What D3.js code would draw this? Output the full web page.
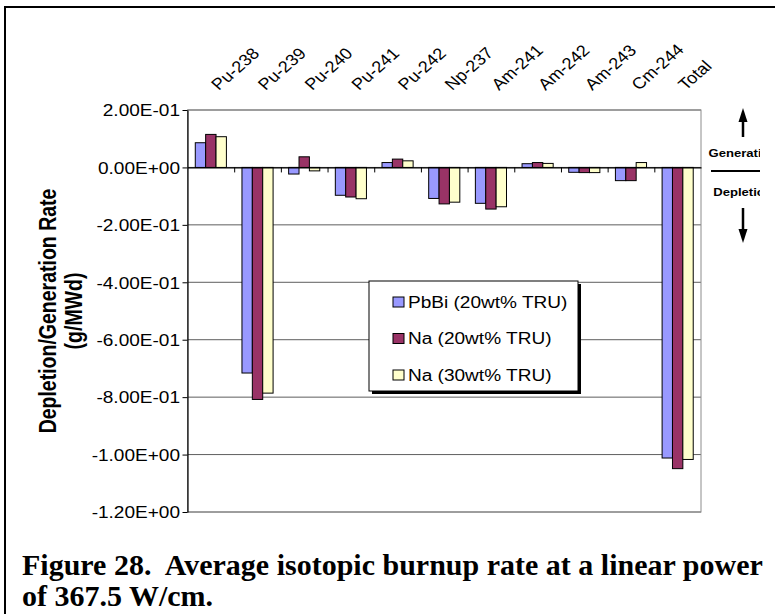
<!DOCTYPE html>
<html>
<head>
<meta charset="utf-8">
<script src="https://cdn.jsdelivr.net/npm/d3@7"></script>
<style>
  body { margin: 0; background: #fff; }
  svg { display: block; font-family: "Liberation Sans", Arial, sans-serif; }
</style>
</head>
<body>
<svg id="chart" width="775" height="614"></svg>
<script>
const categories = ["Pu-238", "Pu-239", "Pu-240", "Pu-241", "Pu-242", "Np-237", "Am-241", "Am-242", "Am-243", "Cm-244", "Total"];
const seriesNames = ["PbBi (20wt% TRU)", "Na (20wt% TRU)", "Na (30wt% TRU)"];
const pbbi20 = [0.086, -0.716, -0.023, -0.097, 0.017, -0.108, -0.125, 0.013, -0.017, -0.046, -1.012];
const na20   = [0.115, -0.808,  0.037, -0.103, 0.029, -0.127, -0.145, 0.017, -0.018, -0.046, -1.049];
const na30   = [0.107, -0.786, -0.012, -0.109, 0.023, -0.121, -0.137, 0.014, -0.018,  0.017, -1.017];
const yTicks = [0.2, 0, -0.2, -0.4, -0.6, -0.8, -1.0, -1.2];
const colors = ["#9999ff", "#993366", "#ffffcc"];
const sideLabels = ["Generation", "Depletion"];
const titleLines = ["Figure 28.  Average isotopic burnup rate at a linear power", "of 367.5 W/cm."];

const series = [pbbi20, na20, na30];
const SX = 1.19; // reference text is stretched sideways

const svg = d3.select("#chart");
const plot = {left: 187.5, right: 701, top: 110, bottom: 512};

// outer frame of the figure
svg.append("rect")
  .attr("x", 5).attr("y", 7)
  .attr("width", 820).attr("height", 700)
  .attr("fill", "none").attr("stroke", "#000").attr("stroke-width", 2);

const x = d3.scaleBand().domain(categories).range([plot.left, plot.right]);
const xs = d3.scaleBand().domain(d3.range(series.length))
  .range([0, x.bandwidth()]).paddingOuter(0.75);
const y = d3.scaleLinear().domain([-1.2, 0.2]).range([plot.bottom, plot.top]);

function sci(v) {
  if (Math.abs(v) < 1e-9) return "0.00E+00";
  const parts = v.toExponential(2).split("e");
  const sign = parts[1][0] === "-" ? "-" : "+";
  return parts[0] + "E" + sign + parts[1].replace(/[+-]/, "").padStart(2, "0");
}

// gridlines
svg.append("g").selectAll("line")
  .data(yTicks)
  .enter().append("line")
  .attr("x1", plot.left).attr("x2", plot.right)
  .attr("y1", d => y(d)).attr("y2", d => y(d))
  .attr("stroke", "#5e5e5e").attr("stroke-width", 1);

svg.append("rect")
  .attr("x", plot.left).attr("y", plot.top)
  .attr("width", plot.right - plot.left).attr("height", plot.bottom - plot.top)
  .attr("fill", "none").attr("stroke", "#8c8c8c").attr("stroke-width", 1);

// bars
categories.forEach((c, i) => {
  series.forEach((s, j) => {
    const v = s[i];
    svg.append("rect")
      .attr("x", x(c) + xs(j))
      .attr("y", Math.min(y(v), y(0)))
      .attr("width", xs.bandwidth())
      .attr("height", Math.abs(y(v) - y(0)))
      .attr("fill", colors[j])
      .attr("stroke", "#000").attr("stroke-width", 1);
  });
});

// category axis along zero, ticks on category boundaries
const xIdx = d3.scaleLinear().domain([0, categories.length]).range([plot.left, plot.right]);
const catAxis = svg.append("g")
  .attr("transform", "translate(0," + y(0) + ")")
  .call(d3.axisBottom(xIdx).tickValues(d3.range(1, categories.length)).tickFormat("").tickSize(5).tickSizeOuter(0));
catAxis.select(".domain").attr("stroke-width", 1.2);

// value axis
const yAxis = svg.append("g")
  .attr("transform", "translate(" + plot.left + ",0)")
  .call(d3.axisLeft(y).tickValues(yTicks).tickFormat(sci).tickSize(5).tickSizeOuter(0));
yAxis.select(".domain").attr("stroke-width", 1.2);
yAxis.selectAll("text")
  .attr("font-size", 16)
  .attr("font-family", "Liberation Sans, Arial, sans-serif")
  .attr("fill", "#000")
  .attr("x", -7.5 / SX)
  .attr("dy", "0.36em")
  .attr("transform", "scale(" + SX + ",1)");

// category labels above the plot
const topAxis = svg.append("g")
  .attr("transform", "translate(0,91)")
  .call(d3.axisTop(x).tickSize(0).tickPadding(0));
topAxis.select(".domain").remove();
topAxis.selectAll("text")
  .attr("font-size", 16)
  .attr("font-family", "Liberation Sans, Arial, sans-serif")
  .attr("fill", "#000")
  .attr("text-anchor", "start")
  .attr("x", 0).attr("y", 0).attr("dy", 0)
  .attr("transform", "translate(8,0) scale(1.14,1) rotate(-45)");

// y axis title
const yTitle = svg.append("g").attr("font-weight", "bold").attr("font-size", 19.5);
yTitle.append("text")
  .attr("text-anchor", "middle")
  .attr("transform", "translate(56,311) scale(" + SX + ",1) rotate(-90)")
  .text("Depletion/Generation Rate");
yTitle.append("text")
  .attr("text-anchor", "middle")
  .attr("transform", "translate(82,311) scale(" + SX + ",1) rotate(-90)")
  .text("(g/MWd)");

// legend
const lg = svg.append("g");
lg.append("rect").attr("x", 372).attr("y", 284).attr("width", 209).attr("height", 110).attr("fill", "#000");
lg.append("rect").attr("x", 369).attr("y", 281).attr("width", 209).attr("height", 110)
  .attr("fill", "#fff").attr("stroke", "#000").attr("stroke-width", 1);
seriesNames.forEach((name, j) => {
  const cy = 302 + j * 36.5;
  lg.append("rect")
    .attr("x", 393).attr("y", cy - 5)
    .attr("width", 11).attr("height", 10)
    .attr("fill", colors[j]).attr("stroke", "#000").attr("stroke-width", 1);
  lg.append("text")
    .attr("font-size", 16)
    .attr("transform", "translate(408," + (cy + 5.7) + ") scale(" + SX + ",1)")
    .text(name);
});

// generation / depletion note on the right, clipped like the original text box
svg.append("clipPath").attr("id", "noteClip")
  .append("rect").attr("x", 700).attr("y", 95).attr("width", 60).attr("height", 160);
const note = svg.append("g").attr("clip-path", "url(#noteClip)");
note.append("line").attr("x1", 743).attr("x2", 743).attr("y1", 137).attr("y2", 120)
  .attr("stroke", "#000").attr("stroke-width", 2.5);
note.append("path").attr("d", "M738.5,122 L747.5,122 L743,108 Z").attr("fill", "#000");
note.append("line").attr("x1", 743).attr("x2", 743).attr("y1", 208).attr("y2", 231)
  .attr("stroke", "#000").attr("stroke-width", 2.5);
note.append("path").attr("d", "M738.5,229 L747.5,229 L743,243 Z").attr("fill", "#000");
note.append("line").attr("x1", 711).attr("x2", 762).attr("y1", 171).attr("y2", 171)
  .attr("stroke", "#000").attr("stroke-width", 2);
sideLabels.forEach((t, k) => {
  note.append("text")
    .attr("font-size", 11).attr("font-weight", "bold")
    .attr("text-anchor", "middle")
    .attr("transform", "translate(743," + (k === 0 ? 157 : 196) + ") scale(" + SX + ",1)")
    .text(t);
});

// figure caption (keep the double space after "28.")
const cap = svg.append("g")
  .attr("font-family", "Liberation Serif, Times New Roman, serif")
  .attr("font-weight", "bold").attr("font-size", 29);
const capTexts = titleLines.map(t => cap.append("text").text(t.replace("  ", "\u00a0 ")));
const w0 = capTexts[0].node().getComputedTextLength();
const csx = 741 / w0;
capTexts.forEach((t, k) => {
  t.attr("transform", "translate(22," + (k === 0 ? 575 : 606) + ") scale(" + csx + ",1)");
});
</script>
</body>
</html>
